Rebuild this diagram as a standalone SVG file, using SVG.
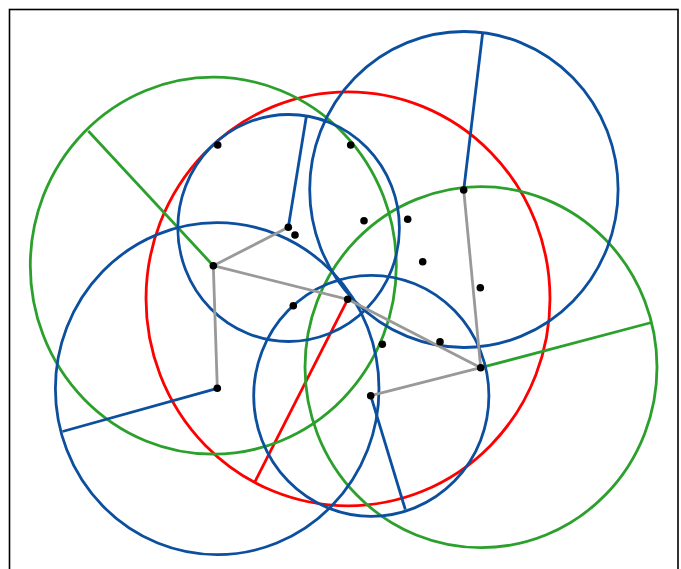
<svg xmlns="http://www.w3.org/2000/svg" width="681" height="569" viewBox="0 0 681 569">
<style>
.c{fill:none;stroke-width:2.8}
.b{stroke:#0b4f9e}
.g{stroke:#2ca02c}
.r{stroke:#ff0000}
.e{stroke:#999999;stroke-width:2.8;fill:none}
.d{fill:#000000}
</style>
<rect x="0" y="0" width="681" height="569" fill="#ffffff"/>
<rect x="9.5" y="9.5" width="668.5" height="580" fill="none" stroke="#000000" stroke-width="1.6"/>
<g id="red-circle">
<ellipse class="c r" cx="348" cy="298.8" rx="202" ry="207"/>
<line class="c r" x1="347.7" y1="299.3" x2="255" y2="481.7"/>
</g>
<g id="green-left">
<ellipse class="c g" cx="213.3" cy="265.7" rx="183" ry="188.5"/>
<line class="c g" x1="213.3" y1="265.7" x2="88.3" y2="131"/>
</g>
<g id="green-right">
<ellipse class="c g" cx="481" cy="367.2" rx="176" ry="180.5"/>
<line class="c g" x1="480.7" y1="367.7" x2="651.5" y2="322.5"/>
</g>
<g id="blue-top-right">
<ellipse class="c b" cx="463.9" cy="189.5" rx="154.2" ry="158"/>
<line class="c b" x1="463.7" y1="190" x2="482.7" y2="32.5"/>
</g>
<g id="blue-top-center">
<ellipse class="c b" cx="288.6" cy="228" rx="110.8" ry="113.5"/>
<line class="c b" x1="288.3" y1="227.3" x2="306.5" y2="115.5"/>
</g>
<g id="blue-bottom-left">
<ellipse class="c b" cx="217.2" cy="388.7" rx="161.8" ry="166"/>
<line class="c b" x1="217.3" y1="388.3" x2="62.5" y2="431.5"/>
</g>
<g id="blue-bottom-center">
<ellipse class="c b" cx="371.3" cy="395.8" rx="117.6" ry="120.5"/>
<line class="c b" x1="370.7" y1="395.7" x2="405.3" y2="509.5"/>
</g>
<g id="connectors">
<line class="e" x1="213.3" y1="265.7" x2="288.3" y2="227.3"/>
<line class="e" x1="213.3" y1="265.7" x2="217.3" y2="388.3"/>
<line class="e" x1="213.3" y1="265.7" x2="347.7" y2="299.3"/>
<line class="e" x1="347.7" y1="299.3" x2="480.7" y2="367.7"/>
<line class="e" x1="463.7" y1="190" x2="480.7" y2="367.7"/>
<line class="e" x1="480.7" y1="367.7" x2="370.7" y2="395.7"/>
</g>
<g id="points">
<circle class="d" cx="213.3" cy="265.7" r="3.8"/>
<circle class="d" cx="288.3" cy="227.3" r="3.8"/>
<circle class="d" cx="347.7" cy="299.3" r="3.8"/>
<circle class="d" cx="217.3" cy="388.3" r="3.8"/>
<circle class="d" cx="463.7" cy="190" r="3.8"/>
<circle class="d" cx="480.7" cy="367.7" r="3.8"/>
<circle class="d" cx="370.7" cy="395.7" r="3.8"/>
<circle class="d" cx="217.7" cy="145" r="3.8"/>
<circle class="d" cx="350.7" cy="145" r="3.8"/>
<circle class="d" cx="295" cy="235" r="3.8"/>
<circle class="d" cx="364" cy="220.7" r="3.8"/>
<circle class="d" cx="407.7" cy="219.3" r="3.8"/>
<circle class="d" cx="422.7" cy="261.7" r="3.8"/>
<circle class="d" cx="480.3" cy="287.7" r="3.8"/>
<circle class="d" cx="293.3" cy="305.7" r="3.8"/>
<circle class="d" cx="382.3" cy="344.3" r="3.8"/>
<circle class="d" cx="440" cy="341.7" r="3.8"/>
</g>
</svg>
